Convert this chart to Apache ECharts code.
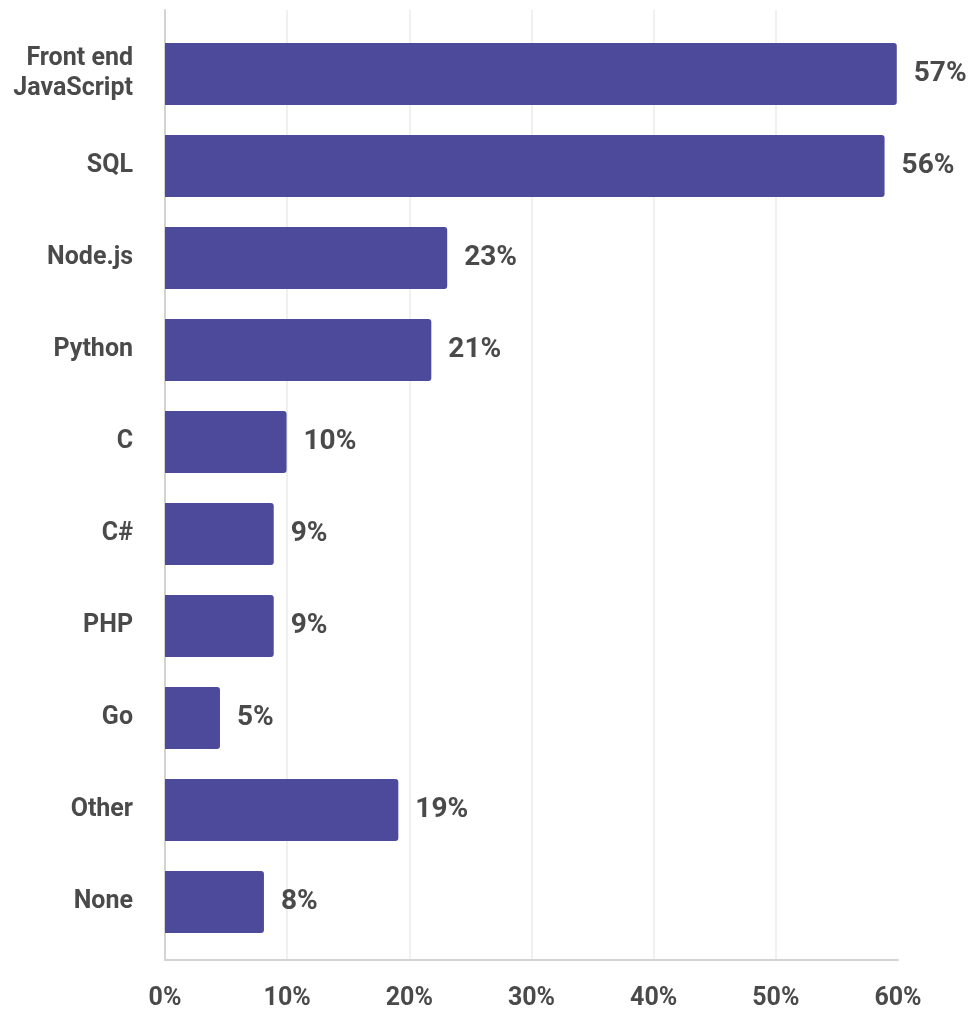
<!DOCTYPE html>
<html>
<head>
<meta charset="utf-8">
<script src="https://cdn.jsdelivr.net/npm/echarts@6/dist/echarts.min.js"></script>
<style>
html,body{margin:0;padding:0;background:#fff;}
#chart{width:969px;height:1011px;}
</style>
</head>
<body>
<div id="chart"></div>
<script>
const categories = ['Front end\nJavaScript', 'SQL', 'Node.js', 'Python', 'C', 'C#', 'PHP', 'Go', 'Other', 'None'];
const barValues = [59.9, 58.9, 23.1, 21.8, 9.95, 8.9, 8.9, 4.5, 19.1, 8.1];
const labelTexts = ['57%', '56%', '23%', '21%', '10%', '9%', '9%', '5%', '19%', '8%'];
const xTicks = [0, 10, 20, 30, 40, 50, 60];

const textColor = '#4a4a4a';
const font = 'Roboto';

const chart = echarts.init(document.getElementById('chart'));
chart.setOption({
  animation: false,
  backgroundColor: '#ffffff',
  grid: [
    { left: 165, right: 71, top: 28, height: 920, containLabel: false },
    { left: 165, right: 71, top: 10, bottom: 50, containLabel: false }
  ],
  xAxis: [
    {
      gridIndex: 0, type: 'value', min: xTicks[0], max: xTicks[xTicks.length - 1], interval: 10,
      axisLine: { show: false }, axisTick: { show: false }, axisLabel: { show: false }, splitLine: { show: false }
    },
    {
      gridIndex: 1, type: 'value', min: xTicks[0], max: xTicks[xTicks.length - 1], interval: 10,
      axisLine: { show: true, onZero: false, lineStyle: { color: '#d3d3d3', width: 2 } },
      axisTick: { show: false },
      axisLabel: {
        margin: 26, color: textColor, fontFamily: font, fontWeight: 'bold', fontSize: 25, lineHeight: 25,
        formatter: v => v + '%'
      },
      splitLine: { show: true, showMinLine: false, showMaxLine: false, lineStyle: { color: '#f0f0f0', width: 2 } }
    }
  ],
  yAxis: [
    {
      gridIndex: 0, type: 'category', data: categories, inverse: true,
      axisLine: { show: false }, axisTick: { show: false },
      axisLabel: {
        margin: 32, color: textColor, fontFamily: font, fontWeight: 'bold', fontSize: 25, lineHeight: 30, align: 'right'
      }
    },
    {
      gridIndex: 1, type: 'value', min: 0, max: 1,
      axisLine: { show: true, onZero: false, lineStyle: { color: '#d3d3d3', width: 2 } },
      axisTick: { show: false }, axisLabel: { show: false }, splitLine: { show: false }
    }
  ],
  series: [{
    type: 'bar',
    xAxisIndex: 0, yAxisIndex: 0,
    data: barValues,
    barWidth: 62,
    itemStyle: { color: '#4e4a9b', borderRadius: [0, 3, 3, 0] },
    label: {
      show: true, position: 'right', distance: 17,
      color: textColor, fontFamily: font, fontWeight: 'bold', fontSize: 28,
      formatter: p => labelTexts[p.dataIndex]
    },
    z: 3
  }]
});
</script>
</body>
</html>
